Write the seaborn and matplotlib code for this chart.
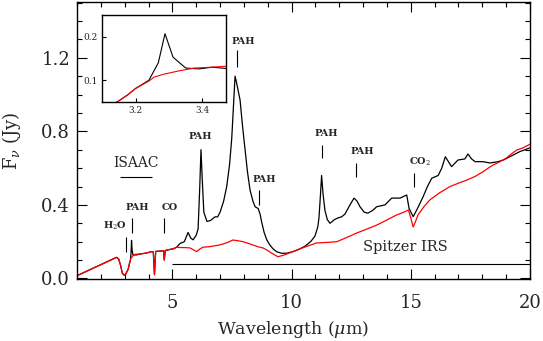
"""Spectrum of a dusty source: ISAAC + Spitzer IRS, with a zoom on the 3.3 um PAH band."""

import matplotlib as mpl

mpl.use("Agg")

import matplotlib.pyplot as plt
import pandas as pd
import seaborn as sns
from matplotlib.ticker import MultipleLocator

sns.set_theme(style="ticks", context="paper")
plt.rcParams["font.family"] = ["DejaVu Serif"]
plt.rcParams["mathtext.fontset"] = "dejavuserif"

# ---- data ----
wave_black = [1.0, 1.5, 2.0, 2.5, 2.66, 2.75, 2.83, 2.9, 2.97, 3.03, 3.09, 3.145, 3.176, 3.2,
              3.24, 3.268, 3.288, 3.312, 3.35, 3.39, 3.43, 3.47, 3.6, 3.9, 4.1, 4.2, 4.25, 4.3,
              4.4, 4.55, 4.63, 4.66, 4.7, 4.8, 4.9, 5.05, 5.18, 5.32, 5.5, 5.66, 5.77, 5.87,
              6.0, 6.08, 6.15, 6.2, 6.25, 6.32, 6.45, 6.6, 6.79, 6.9, 7.0, 7.15, 7.28, 7.4,
              7.49, 7.57, 7.63, 7.7, 7.84, 7.95, 8.05, 8.15, 8.26, 8.38, 8.47, 8.6, 8.68, 8.74,
              8.85, 8.96, 9.1, 9.23, 9.38, 9.58, 9.8, 10.06, 10.3, 10.56, 10.8, 10.98, 11.1,
              11.15, 11.21, 11.26, 11.32, 11.4, 11.5, 11.61, 11.8, 11.96, 12.1, 12.24, 12.45,
              12.62, 12.75, 12.87, 13.05, 13.2, 13.4, 13.57, 13.75, 13.92, 14.2, 14.55, 14.83,
              14.93, 15.1, 15.25, 15.52, 15.7, 15.88, 16.15, 16.3, 16.45, 16.71, 16.98, 17.27,
              17.4, 17.55, 17.7, 18.03, 18.32, 18.66, 18.9, 19.16, 19.58, 20.0]
flux_black = [0.015, 0.045, 0.075, 0.105, 0.115, 0.105, 0.07, 0.03, 0.018, 0.02, 0.035, 0.05,
              0.066, 0.081, 0.1, 0.14, 0.207, 0.153, 0.128, 0.126, 0.13, 0.127, 0.132, 0.138,
              0.145, 0.146, 0.02, 0.147, 0.148, 0.15, 0.15, 0.1, 0.152, 0.155, 0.158, 0.162,
              0.17, 0.19, 0.2, 0.25, 0.22, 0.21, 0.235, 0.27, 0.5, 0.7, 0.55, 0.36, 0.31,
              0.315, 0.335, 0.335, 0.36, 0.42, 0.5, 0.62, 0.76, 0.95, 1.1, 1.06, 0.97, 0.82,
              0.7, 0.58, 0.48, 0.42, 0.39, 0.38, 0.35, 0.31, 0.25, 0.21, 0.18, 0.16, 0.145,
              0.137, 0.137, 0.146, 0.158, 0.175, 0.2, 0.23, 0.28, 0.33, 0.45, 0.56, 0.46, 0.37,
              0.32, 0.3, 0.32, 0.33, 0.335, 0.35, 0.4, 0.437, 0.42, 0.39, 0.36, 0.355, 0.37,
              0.39, 0.395, 0.4, 0.437, 0.437, 0.454, 0.38, 0.336, 0.372, 0.445, 0.5, 0.545,
              0.56, 0.6, 0.662, 0.608, 0.644, 0.65, 0.677, 0.65, 0.635, 0.635, 0.628, 0.635,
              0.645, 0.662, 0.69, 0.71]

wave_red = [1.0, 1.5, 2.0, 2.5, 2.66, 2.75, 2.83, 2.9, 2.97, 3.03, 3.09, 3.145, 3.176, 3.2,
            3.24, 3.255, 3.285, 3.327, 3.376, 3.427, 3.47, 3.6, 3.9, 4.1, 4.2, 4.25, 4.3, 4.4,
            4.55, 4.63, 4.66, 4.7, 4.8, 4.9, 5.05, 5.18, 5.32, 5.5, 5.74, 5.9, 6.02, 6.15,
            6.29, 6.5, 6.7, 6.9, 7.12, 7.3, 7.54, 7.75, 7.96, 8.2, 8.38, 8.6, 8.8, 8.96, 9.2,
            9.43, 9.7, 10.06, 10.5, 11.05, 11.5, 11.9, 12.3, 12.73, 13.15, 13.57, 14.0, 14.4,
            14.7, 14.9, 15.0, 15.1, 15.2, 15.3, 15.55, 15.8, 16.2, 16.65, 17.0, 17.35, 17.7,
            18.03, 18.25, 18.45, 18.7, 19.0, 19.2, 19.44, 19.7, 20.0]
flux_red = [0.015, 0.045, 0.075, 0.105, 0.115, 0.105, 0.07, 0.03, 0.018, 0.02, 0.035, 0.05,
            0.066, 0.081, 0.098, 0.107, 0.114, 0.121, 0.128, 0.13, 0.132, 0.132, 0.138, 0.145,
            0.146, 0.02, 0.147, 0.148, 0.15, 0.15, 0.1, 0.152, 0.155, 0.158, 0.162, 0.17,
            0.168, 0.168, 0.166, 0.155, 0.146, 0.16, 0.17, 0.172, 0.176, 0.18, 0.187, 0.195,
            0.209, 0.205, 0.2, 0.19, 0.182, 0.172, 0.166, 0.155, 0.135, 0.118, 0.128, 0.146,
            0.168, 0.193, 0.196, 0.2, 0.222, 0.247, 0.268, 0.29, 0.318, 0.345, 0.36, 0.372,
            0.33, 0.28, 0.31, 0.345, 0.39, 0.427, 0.465, 0.5, 0.518, 0.535, 0.555, 0.58, 0.6,
            0.617, 0.632, 0.654, 0.675, 0.698, 0.71, 0.73]

# feature labels: text, text x, text y, marker x (None = no marker), marker bottom, marker top
feat_text = ["H$_2$O", "PAH", "CO", "PAH", "PAH", "PAH", "PAH", "PAH", "CO$_2$"]
feat_tx = [2.6, 3.53, 4.9, 6.16, 7.98, 8.86, 11.47, 12.97, 15.4]
feat_ty = [0.285, 0.387, 0.387, 0.77, 1.29, 0.54, 0.79, 0.69, 0.635]
feat_lx = [3.07, 3.29, 4.66, None, 7.72, 8.63, 11.26, 12.71, 15.14]
feat_l0 = [0.146, 0.247, 0.247, None, 1.15, 0.40, 0.654, 0.55, 0.50]
feat_l1 = [0.227, 0.33, 0.33, None, 1.24, 0.48, 0.725, 0.626, 0.575]

isaac_range = [2.8, 4.13]
isaac_y = 0.55
irs_range = [4.97, 20.0]
irs_y = 0.078

black = pd.DataFrame({"wave": wave_black, "flux": flux_black})
red = pd.DataFrame({"wave": wave_red, "flux": flux_red})


def style_axis(ax, major_len, minor_len):
    ax.tick_params(which="both", direction="in", top=True, right=True, color="black")
    ax.tick_params(which="major", length=major_len, width=0.8)
    ax.tick_params(which="minor", length=minor_len, width=0.8)
    for sp in ax.spines.values():
        sp.set_visible(True)
        sp.set_color("black")
        sp.set_linewidth(1.0)


fig = plt.figure(figsize=(5.43, 3.41), dpi=100)
ax = fig.add_axes([0.1418, 0.1818, 0.8342, 0.8122])

sns.lineplot(data=black, x="wave", y="flux", sort=False, estimator=None, color="black", lw=0.9, ax=ax)
sns.lineplot(data=red, x="wave", y="flux", sort=False, estimator=None, color="#ff0000", lw=0.9, ax=ax)

ax.set_xlim(1, 20)
ax.set_ylim(-0.003, 1.503)
ax.xaxis.set_major_locator(MultipleLocator(5))
ax.xaxis.set_minor_locator(MultipleLocator(1))
ax.yaxis.set_major_locator(MultipleLocator(0.4))
ax.yaxis.set_minor_locator(MultipleLocator(0.1))
ax.yaxis.set_major_formatter(mpl.ticker.FormatStrFormatter("%.1f"))
style_axis(ax, 7, 3.5)
ax.tick_params(axis="x", which="both", pad=11, labelsize=13)
ax.tick_params(axis="y", which="both", pad=5, labelsize=13)
ax.set_xticks([5, 10, 15, 20])
ax.set_xlabel(r"Wavelength ($\mu$m)", fontsize=12.5)
ax.set_ylabel(r"F$_\nu$ (Jy)", fontsize=13)
ax.xaxis.set_label_coords(0.477, -0.145)
ax.yaxis.set_label_coords(-0.12, 0.5)

# feature markers and labels
for txt, tx, ty, lx, l0, l1 in zip(feat_text, feat_tx, feat_ty, feat_lx, feat_l0, feat_l1):
    ax.text(tx, ty, txt, ha="center", va="center", fontsize=7, fontweight="bold")
    if lx is not None:
        ax.vlines(lx, l0, l1, color="black", lw=0.8)

# instrument coverage
ax.hlines(isaac_y, *isaac_range, color="black", lw=0.8)
ax.text(sum(isaac_range) / 2, 0.626, "ISAAC", ha="center", va="center", fontsize=10)
ax.hlines(irs_y, *irs_range, color="black", lw=0.8)
ax.text(14.76, 0.173, "Spitzer IRS", ha="center", va="center", fontsize=10.5)

# ---- inset: 3.3 um PAH band ----
axin = fig.add_axes([0.188, 0.701, 0.228, 0.255])
sns.lineplot(data=black, x="wave", y="flux", sort=False, estimator=None, color="black", lw=0.8, ax=axin)
sns.lineplot(data=red, x="wave", y="flux", sort=False, estimator=None, color="#ff0000", lw=0.8, ax=axin)
axin.set_xlim(3.1, 3.47)
axin.set_ylim(0.05, 0.25)
axin.set_xticks([3.2, 3.4])
axin.set_yticks([0.1, 0.2])
axin.set_xlabel("")
axin.set_ylabel("")
style_axis(axin, 3, 2)
axin.tick_params(which="both", labelsize=6.5, pad=3, top=False, right=False)
axin.set_facecolor("white")

fig.savefig("out.png", dpi=100)
plt.close(fig)
